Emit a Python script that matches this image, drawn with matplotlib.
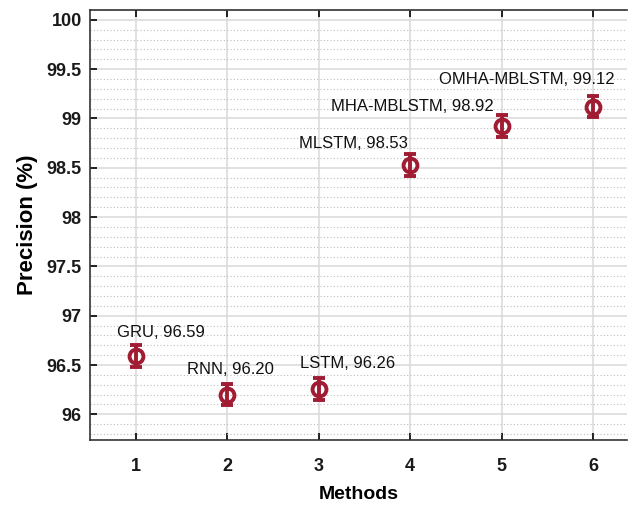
import numpy as np
import matplotlib.pyplot as plt
from matplotlib.ticker import MultipleLocator

plt.rcParams['font.family'] = ['Liberation Sans', 'DejaVu Sans']

methods = ["GRU", "RNN", "LSTM", "MLSTM", "MHA-MBLSTM", "OMHA-MBLSTM"]
x_pos = [1, 2, 3, 4, 5, 6]
precision = [96.59, 96.20, 96.26, 98.53, 98.92, 99.12]
err = [0.11, 0.11, 0.11, 0.11, 0.11, 0.11]
# label offsets (pixels) from each point
lab_dx = [25, 3, 29, -57, -89, -66]
lab_dy = [24, 25, 25, 21, 20, 27]

red = '#a01c32'

fig = plt.figure(figsize=(6.28, 5.08), dpi=100)
ax = fig.add_axes([0.1433, 0.1339, 0.855, 0.8465])

ax.errorbar(x_pos, precision, yerr=err, fmt='o', color=red, ecolor=red,
            markersize=10, markerfacecolor='none', markeredgewidth=2.8,
            elinewidth=2.8, capsize=4, capthick=2.8, zorder=3)

for xi, yi, name, dx, dy in zip(x_pos, precision, methods, lab_dx, lab_dy):
    ax.annotate(f"{name}, {yi:.2f}", (xi, yi), xytext=(dx, dy),
                textcoords='offset pixels', ha='center', va='center',
                fontsize=12, color='#111111')

ax.set_xlim(0.5, 6.37)
ax.set_ylim(95.74, 100.1)
ax.set_xticks(x_pos)
ax.yaxis.set_minor_locator(MultipleLocator(0.1))
ax.set_yticks(np.arange(96, 100.01, 0.5))
ax.set_yticklabels(['96', '96.5', '97', '97.5', '98', '98.5', '99', '99.5', '100'])

ax.grid(True, which='major', color='#d8d8d8', linewidth=1.1, linestyle='-')
ax.grid(True, which='minor', axis='y', color='#bdbdbd', linewidth=0.8, linestyle=(0, (1, 2)))
ax.set_axisbelow(True)

ax.spines['right'].set_visible(False)
for s in ['left', 'bottom', 'top']:
    ax.spines[s].set_color('#333333')
    ax.spines[s].set_linewidth(1.2)

ax.tick_params(axis='x', which='major', direction='in', top=True, length=5,
               width=1.2, pad=13, labelsize=13, labelcolor='#1a1a1a')
ax.tick_params(axis='y', which='major', direction='in', length=5, width=1.2,
               pad=6, labelsize=13, labelcolor='#1a1a1a')
ax.tick_params(axis='y', which='minor', length=0)
for lab in ax.get_xticklabels() + ax.get_yticklabels():
    lab.set_fontweight('bold')

ax.set_xlabel('Methods', fontsize=14, fontweight='bold', labelpad=8)
ax.set_ylabel('Precision (%)', fontsize=16, fontweight='bold', labelpad=6)

fig.savefig('out.png', dpi=100)
